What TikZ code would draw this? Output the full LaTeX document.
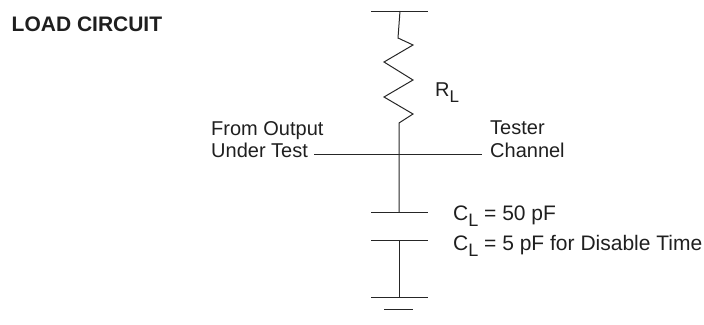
\documentclass[tikz,border=0pt]{standalone}
\usepackage{fontspec}
\setmainfont{Liberation Sans}
\newcommand{\subL}{\raisebox{-0.3em}{\fontsize{17}{17}\selectfont L}}
\newcommand{\subLb}{\raisebox{-0.3em}{\fontsize{18}{18}\selectfont L}}
\begin{document}
\begin{tikzpicture}[x=1pt,y=-1pt,
  wire/.style={line width=1pt,draw=black!85},
  lbl/.style={inner sep=0pt,anchor=base west,font=\fontsize{20}{23}\selectfont,text=black!88},
  caplbl/.style={lbl,font=\fontsize{21}{24}\selectfont},
  titlelbl/.style={lbl,font=\fontsize{21}{24}\selectfont\bfseries}]
\useasboundingbox (0,0) rectangle (704,324);
% coordinates
\coordinate (topL) at (371,11);
\coordinate (topR) at (428,11);
\coordinate (top) at (400,11);
\coordinate (zs) at (398,38);
\coordinate (ze) at (399,123);
\coordinate (junc) at (399,154);
\coordinate (p1) at (399,212);
\coordinate (p1L) at (371,212);
\coordinate (p1R) at (428,212);
\coordinate (p2) at (399,240);
\coordinate (p2L) at (371,240);
\coordinate (p2R) at (428,240);
\coordinate (g1) at (399,297);
\coordinate (g1L) at (371,297);
\coordinate (g1R) at (428,297);
\coordinate (g2L) at (384,309);
\coordinate (g2R) at (413,309);
\coordinate (wL) at (314,154);
\coordinate (wR) at (482,154);
% supply bar and resistor
\draw[wire] (topL) -- (topR);
\draw[wire] (top) -- (zs) -- (413,45) -- (384,62) -- (413,80) -- (384,97) -- (413,114) -- (ze) -- (junc) -- (p1);
% capacitor
\draw[wire] (p1L) -- (p1R);
\draw[wire] (p2L) -- (p2R);
\draw[wire] (p2) -- (g1);
% ground
\draw[wire] (g1L) -- (g1R);
\draw[wire] (g2L) -- (g2R);
% horizontal wire
\draw[wire] (wL) -- (wR);
% labels
\node[titlelbl] (title) at (11.5,31.7) {LOAD CIRCUIT};
\node[lbl] (rl) at (435,96.7) {R\subL};
\node[lbl] (from1) at (211,135) {From Output};
\node[lbl] (from2) at (211,157.5) {Under Test};
\node[lbl] (tes1) at (490,134.5) {Tester};
\node[lbl] (tes2) at (490,157) {Channel};
\node[caplbl] (cl1) at (453,220) {C\subLb{} = 50 pF};
\node[caplbl] (cl2) at (453,250) {C\subLb{} = 5 pF for Disable Time};
\end{tikzpicture}
\end{document}
